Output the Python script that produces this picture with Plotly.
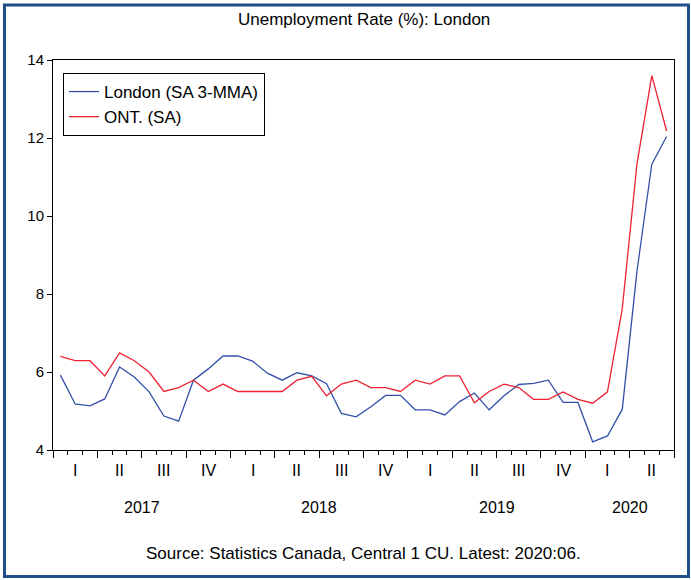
import plotly.graph_objects as go

# Monthly data, Jan 2017 .. Jun 2020
months = [f"{y}-{m:02d}" for y in range(2017, 2021) for m in range(1, 13)][:42]

london = [5.92, 5.18, 5.13, 5.31, 6.13, 5.87, 5.49, 4.87, 4.74, 5.79, 6.08, 6.41,
          6.41, 6.28, 5.97, 5.79, 5.98, 5.90, 5.70, 4.94, 4.85, 5.11, 5.40, 5.40,
          5.03, 5.03, 4.90, 5.24, 5.46, 5.03, 5.39, 5.68, 5.71, 5.79, 5.22, 5.22,
          4.21, 4.36, 5.04, 8.60, 11.33, 12.04]

ontario = [6.40, 6.29, 6.29, 5.90, 6.49, 6.29, 6.00, 5.50, 5.60, 5.79, 5.50, 5.69,
           5.50, 5.50, 5.50, 5.50, 5.79, 5.89, 5.39, 5.69, 5.79, 5.60, 5.60, 5.50,
           5.79, 5.69, 5.90, 5.90, 5.21, 5.50, 5.69, 5.60, 5.30, 5.30, 5.49, 5.30,
           5.20, 5.49, 7.62, 11.35, 13.60, 12.18]

quarter_labels = ["I", "II", "III", "IV"] * 3 + ["I", "II"]
year_labels = ["2017", "2018", "2019", "2020"]
year_months = [12, 12, 12, 6]

series_names = ["London (SA 3-MMA)", "ONT. (SA)"]
title_text = "Unemployment Rate (%): London"
source_text = "Source: Statistics Canada, Central 1 CU. Latest: 2020:06."

FONT = "Arial, Liberation Sans, sans-serif"

xpos = [i + 0.5 for i in range(len(months))]

fig = go.Figure()
fig.add_trace(go.Scatter(x=xpos, y=london, mode="lines", name=series_names[0],
                         line=dict(color="#3350a8", width=1.3)))
fig.add_trace(go.Scatter(x=xpos, y=ontario, mode="lines", name=series_names[1],
                         line=dict(color="#ee2233", width=1.3)))

n = len(months)
annotations = []
for q, lab in enumerate(quarter_labels):
    annotations.append(dict(x=q * 3 + 1.5, y=-20 / 390, xref="x", yref="paper",
                            text=lab, showarrow=False, yanchor="middle",
                            font=dict(family=FONT, size=16, color="black")))
start = 0
for lab, cnt in zip(year_labels, year_months):
    annotations.append(dict(x=start + cnt / 2, y=-58 / 390, xref="x", yref="paper",
                            text=lab, showarrow=False, yanchor="middle",
                            font=dict(family=FONT, size=16, color="black")))
    start += cnt
annotations.append(dict(x=0.5, y=-103 / 390, xref="paper", yref="paper",
                        text=source_text, showarrow=False, yanchor="middle",
                        font=dict(family=FONT, size=17, color="black")))
annotations.append(dict(x=0.5, y=(450 - 20) / 390, xref="paper", yref="paper",
                        text=title_text, showarrow=False, yanchor="middle",
                        font=dict(family=FONT, size=17, color="black")))

fig.update_layout(
    width=691, height=580,
    margin=dict(l=53, r=17, t=60, b=130, autoexpand=False),
    paper_bgcolor="white", plot_bgcolor="white",
    font=dict(family=FONT, size=15, color="black"),
    showlegend=True,
    legend=dict(x=(63 - 53) / 621, y=(450 - 73) / 390, xanchor="left", yanchor="top",
                bordercolor="black", borderwidth=1, bgcolor="white",
                font=dict(family=FONT, size=17, color="black"),
                itemwidth=30, tracegroupgap=0),
    xaxis=dict(range=[0, n], showgrid=False, zeroline=False,
               showline=True, linecolor="black", linewidth=1, mirror=True,
               tickmode="array", tickvals=list(range(0, n + 1, 3)),
               ticks="outside", ticklen=7, tickcolor="black", showticklabels=False,
               minor=dict(tickmode="linear", tick0=0, dtick=1, ticks="outside",
                          ticklen=4, tickcolor="black", showgrid=False)),
    yaxis=dict(range=[4, 14], showgrid=False, zeroline=False,
               showline=True, linecolor="black", linewidth=1, mirror=True,
               tickvals=[4, 6, 8, 10, 12, 14], ticks="outside", ticklen=5,
               tickcolor="black", tickfont=dict(family=FONT, size=15, color="black")),
    annotations=annotations,
    shapes=[dict(type="rect", xref="paper", yref="paper",
                 x0=(4.5 - 53) / 621, x1=(688.5 - 53) / 621,
                 y0=(450 - 576.5) / 390, y1=(450 - 5) / 390,
                 line=dict(color="#1f4e89", width=3), layer="below")],
)

fig.write_html("out.html", config={"displayModeBar": False},
               post_script="document.body.style.margin='0';document.body.style.overflow='hidden';")
